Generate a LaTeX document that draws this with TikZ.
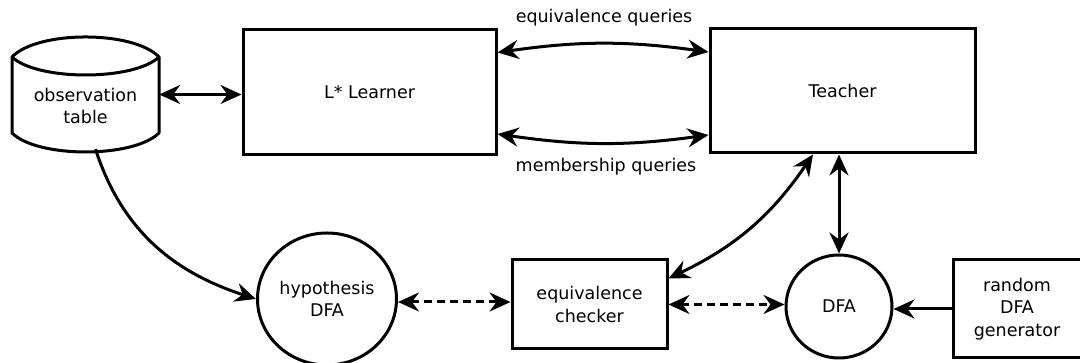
\documentclass[tikz,border=0pt]{standalone}
\usepackage{fontspec}
\setmainfont{DejaVu Sans}
\usetikzlibrary{arrows.meta,calc,shapes.geometric}
\begin{document}
\begin{tikzpicture}[x=1pt,y=1pt,
  lw/.style={line width=3pt},
  box/.style={draw,lw,rectangle,inner sep=0pt,align=center,font=\fontsize{17.5}{22.5}\selectfont},
  state/.style={draw,lw,ellipse,inner sep=0pt,align=center,font=\fontsize{17.5}{22.5}\selectfont},
  lbl/.style={inner sep=0pt,align=center,font=\fontsize{17.5}{22.5}\selectfont},
  tip/.tip={Stealth[length=21pt,width=19pt,inset=7pt]},
  dbl/.style={lw,tip-tip},
  single/.style={lw,-tip},
  dotline/.style={dash pattern=on 8pt off 5pt}
]
\useasboundingbox (0,0) rectangle (1080,363);

% nodes
\node[inner sep=0pt,minimum width=147pt,minimum height=115pt] (obs) at (85.5,268.5) {};
\node[lbl] (obslabel) at (85.5,257) {observation\\table};
\node[box,minimum width=253pt,minimum height=125pt] (learner) at (369.5,270.5) {L* Learner};
\node[box,minimum width=265pt,minimum height=124pt] (teacher) at (842.5,272) {Teacher};
\node[state,minimum width=139pt,minimum height=132pt] (hyp) at (327,64) {hypothesis\\DFA};
\node[box,minimum width=155pt,minimum height=89pt] (checker) at (589.5,58.5) {equivalence\\checker};
\node[state,minimum width=106pt,minimum height=103pt] (dfa) at (839,56.5) {DFA};
\node[box,minimum width=128pt,minimum height=98pt] (gen) at (1017,54) {random\\DFA\\generator};

% cylinder shape
\coordinate (o) at (obs.center);
\draw[lw,line join=round]
  ($(o)+(-73.5,37.5)$) .. controls ($(o)+(-48,64.2)$) and ($(o)+(48,64.2)$) .. ($(o)+(73.5,37.5)$)
  -- ($(o)+(73.5,-38.5)$)
  .. controls ($(o)+(48,-63.8)$) and ($(o)+(-48,-63.8)$) .. ($(o)+(-73.5,-38.5)$)
  -- cycle;
\draw[lw]
  ($(o)+(-73.5,37.5)$) .. controls ($(o)+(-48,13.5)$) and ($(o)+(48,13.5)$) .. ($(o)+(73.5,37.5)$);

% labels
\node[lbl] (eqlabel) at (604,345) {equivalence queries};
\node[lbl] (memlabel) at (606,196) {membership queries};

% connectors
\coordinate (hypE) at ([yshift=-3pt]hyp.east);
\draw[dbl] (obs.east) -- (learner.west |- obs.east);
\draw[dbl] ([yshift=40pt]learner.east) to[bend left=8] ([yshift=39pt]teacher.west);
\draw[dbl] ([yshift=-41.5pt]learner.east) to[bend right=8] ([yshift=-44pt]teacher.west);
\draw[dbl] (teacher.south -| dfa.north) -- (dfa.north);
\draw[dbl] ([yshift=26pt]checker.east) to[bend right=15] ([xshift=-29.5pt]teacher.south);
\draw[dbl,dotline] (hypE) -- (checker.west |- hypE);
\draw[dbl,dotline] (checker.east) -- (dfa.west |- checker.east);
\draw[single] (gen.west) -- (dfa.east |- gen.west);
\draw[single] ([xshift=10pt,yshift=3pt]obs.south) to[out=-72,in=162] (hyp.west);
\end{tikzpicture}
\end{document}
